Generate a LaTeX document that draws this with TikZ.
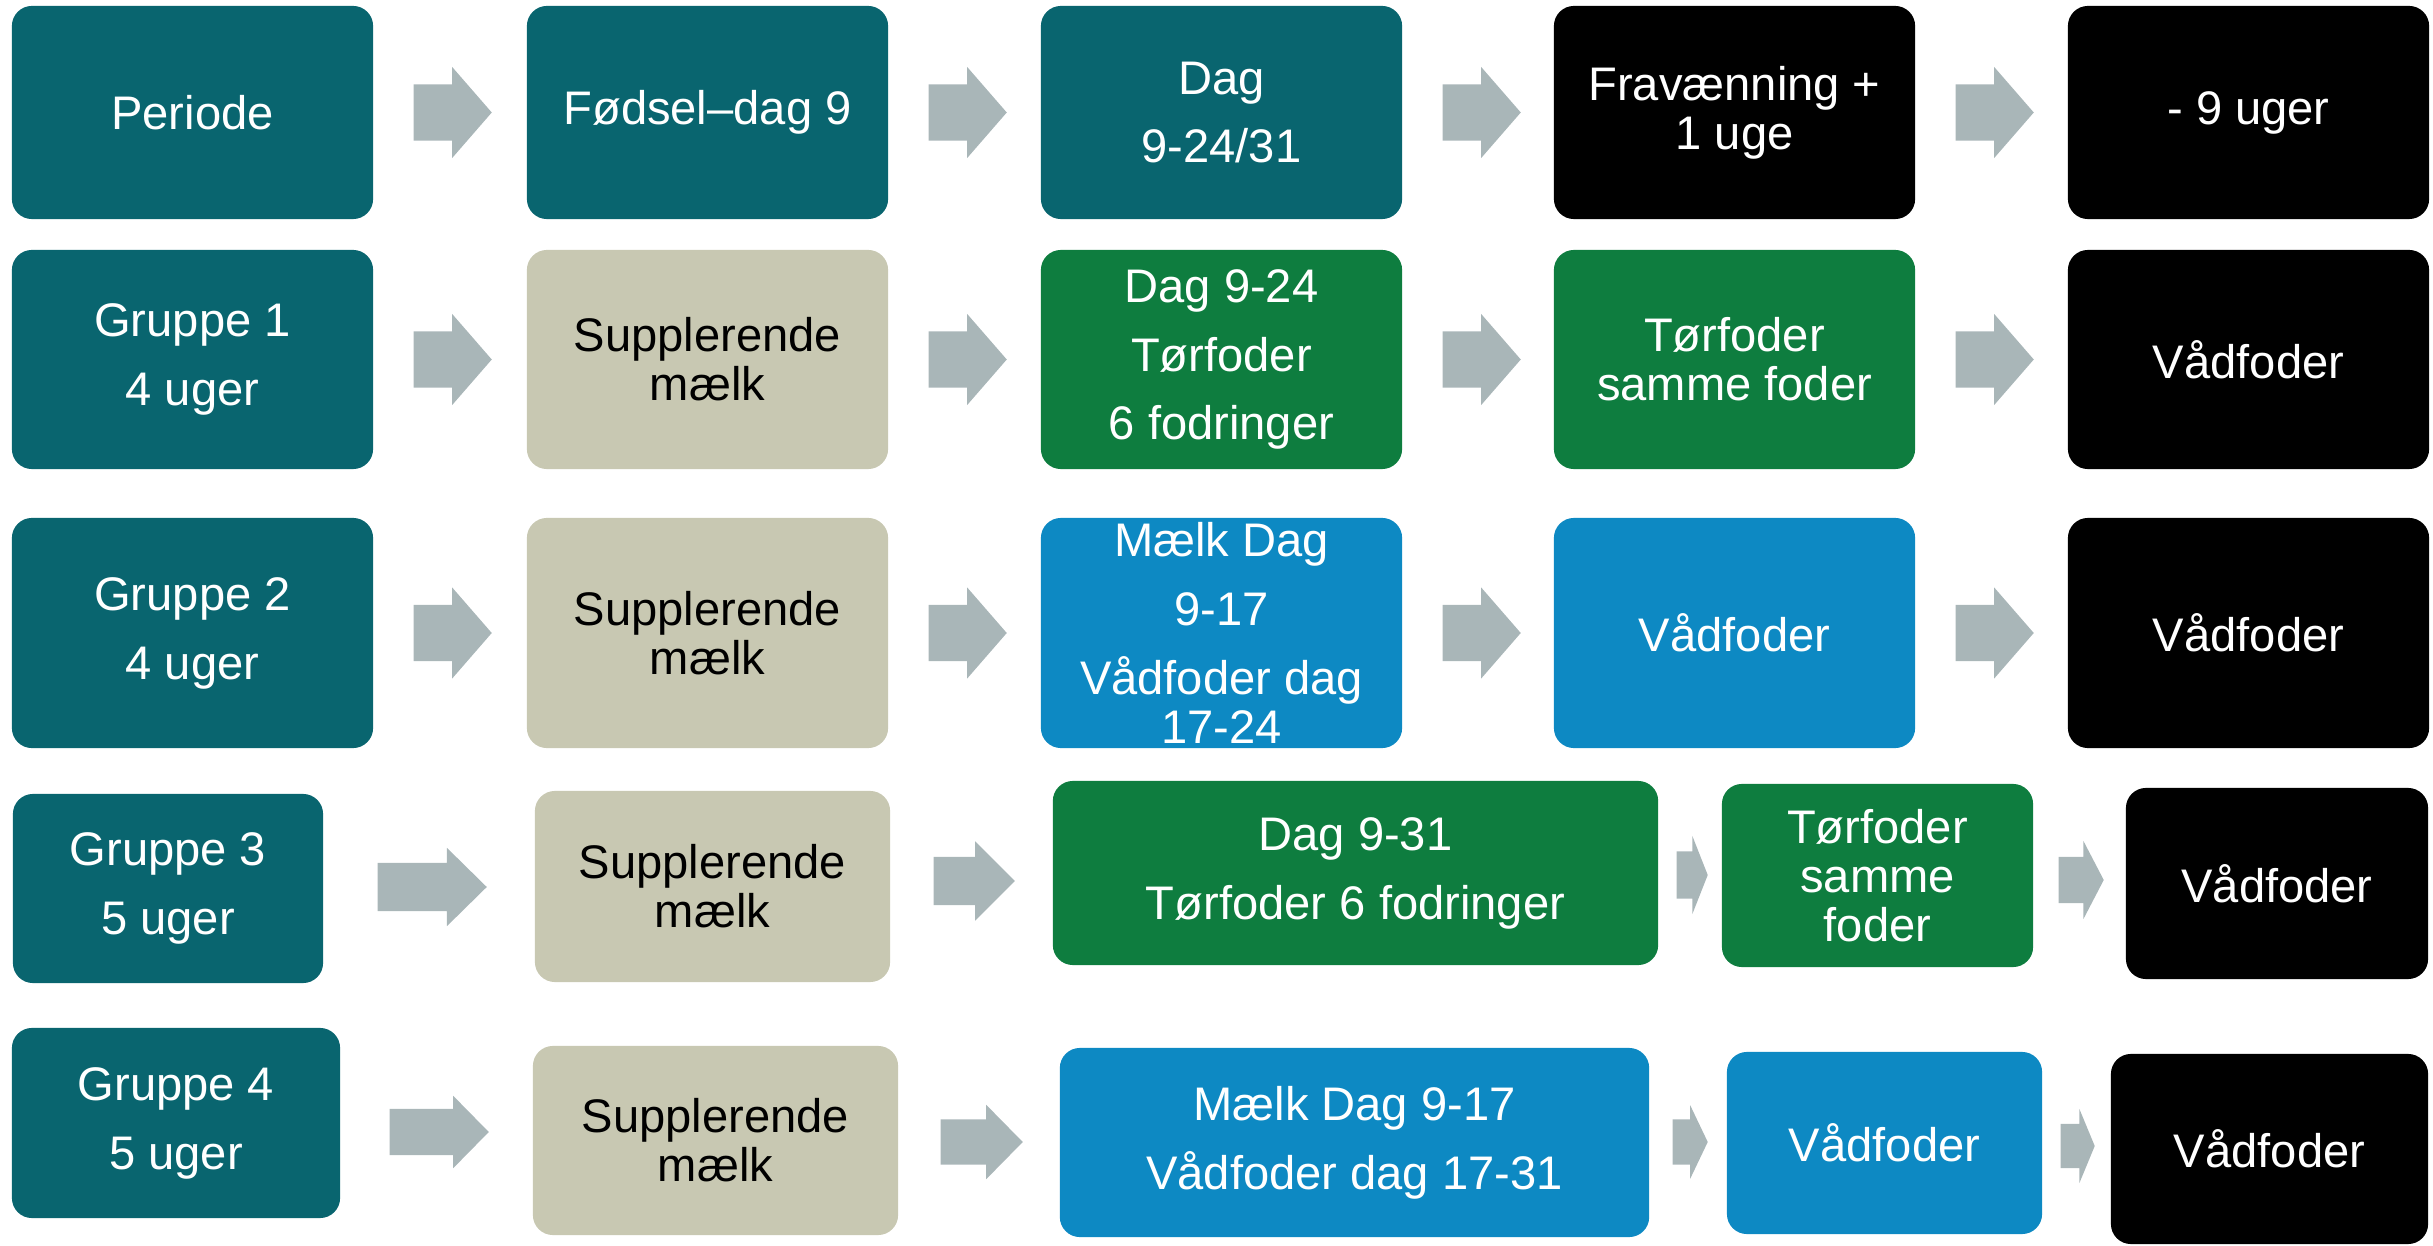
\documentclass[tikz,border=0pt]{standalone}
\usepackage{fontspec}
\setmainfont{Liberation Sans}
\usetikzlibrary{shapes.arrows}

\definecolor{petrol}{HTML}{09656F}
\definecolor{groen}{HTML}{0E7D3F}
\definecolor{blaa}{HTML}{0D89C3}
\definecolor{beige}{HTML}{C8C8B2}
\definecolor{pilgraa}{HTML}{A9B6B8}

\newcommand{\tekst}{\fontsize{13.4pt}{13.9pt}\selectfont}

\tikzset{
  boks/.style={rounded corners=0.2cm, inner sep=0pt, align=center, text=white, font=\tekst},
  str/.style 2 args={minimum width=#1cm, minimum height=#2cm},
  periode/.style={boks, fill=petrol},
  suppl/.style={boks, fill=beige, text=black},
  toer/.style={boks, fill=groen},
  vaad/.style={boks, fill=blaa},
  slut/.style={boks, fill=black},
  % pil: laengde, halv skaftbredde, hoved-udhaeng, spidsvinkel
  pil/.style n args={4}{single arrow, fill=pilgraa, anchor=tail,
    inner xsep=0pt, inner ysep=#2cm, minimum height=#1cm,
    single arrow head extend=#3cm, single arrow tip angle=#4},
}

\begin{document}
\begin{tikzpicture}[x=0.01cm, y=-0.01cm]
  \useasboundingbox (0,0) rectangle (2433,1246);

  % raekke 1: perioder
  \node[periode, str={3.61}{2.13}] (p1) at (192.5,112.5) {Periode};
  \node[periode, str={3.61}{2.13}] (p2) at (707.5,112.5) {Fødsel–dag 9};
  \node[periode, str={3.61}{2.13}] (p3) at (1221.5,112.5) {Dag\\[5.7pt]9-24/31};
  \node[slut, str={3.61}{2.13}] (p4) at (1734.5,112.5) {Fravænning +\\1 uge};
  \node[slut, str={3.61}{2.13}] (p5) at (2248.5,112.5) {- 9 uger};

  % raekke 2: gruppe 1
  \node[periode, str={3.61}{2.19}] (g11) at (192.5,359.5) {Gruppe 1\\[5.7pt]4 uger};
  \node[suppl, str={3.61}{2.19}] (g12) at (707.5,359.5) {Supplerende\\mælk};
  \node[toer, str={3.61}{2.19}] (g13) at (1221.5,359.5) {Dag 9-24\\[5.7pt]Tørfoder\\[5.7pt]6 fodringer};
  \node[toer, str={3.61}{2.19}] (g14) at (1734.5,359.5) {Tørfoder\\samme foder};
  \node[slut, str={3.61}{2.19}] (g15) at (2248.5,359.5) {Vådfoder};

  % raekke 3: gruppe 2
  \node[periode, str={3.61}{2.30}] (g21) at (192.5,633) {Gruppe 2\\[5.7pt]4 uger};
  \node[suppl, str={3.61}{2.30}] (g22) at (707.5,633) {Supplerende\\mælk};
  \node[vaad, str={3.61}{2.30}] (g23) at (1221.5,633) {Mælk Dag\\[5.7pt]9-17\\[5.7pt]Vådfoder dag\\17-24};
  \node[vaad, str={3.61}{2.30}] (g24) at (1734.5,633) {Vådfoder};
  \node[slut, str={3.61}{2.30}] (g25) at (2248.5,633) {Vådfoder};

  % raekke 4: gruppe 3
  \node[periode, str={3.10}{1.89}] (g31) at (168,888.5) {Gruppe 3\\[5.7pt]5 uger};
  \node[suppl, str={3.55}{1.91}] (g32) at (712.5,886.5) {Supplerende\\mælk};
  \node[toer, str={6.05}{1.84}] (g33) at (1355.5,873) {Dag 9-31\\[5.7pt]Tørfoder 6 fodringer};
  \node[toer, str={3.11}{1.83}] (g34) at (1877.5,875.5) {Tørfoder\\samme\\foder};
  \node[slut, str={3.02}{1.91}] (g35) at (2277,883.5) {Vådfoder};

  % raekke 5: gruppe 4
  \node[periode, str={3.28}{1.90}] (g41) at (176,1123) {Gruppe 4\\[5.7pt]5 uger};
  \node[suppl, str={3.65}{1.89}] (g42) at (715.5,1140.5) {Supplerende\\mælk};
  \node[vaad, str={5.89}{1.89}] (g43) at (1354.5,1142.5) {Mælk Dag 9-17\\[5.7pt]Vådfoder dag 17-31};
  \node[vaad, str={3.15}{1.82}] (g44) at (1884.5,1143) {Vådfoder};
  \node[slut, str={3.17}{1.90}] (g45) at (2269.5,1149) {Vådfoder};

  % pile
  \foreach \y/\r in {112.5/1, 359.5/2, 633/3}{
    \node[pil={0.78}{0.275}{0.175}{98}] (a\r1) at (413,\y) {};
    \node[pil={0.78}{0.275}{0.175}{98}] (a\r2) at (928,\y) {};
    \node[pil={0.78}{0.275}{0.175}{98}] (a\r3) at (1442,\y) {};
    \node[pil={0.78}{0.275}{0.175}{98}] (a\r4) at (1955,\y) {};
  }
  \node[pil={1.09}{0.235}{0.15}{89}] (a41) at (377,887) {};
  \node[pil={0.81}{0.235}{0.155}{90}] (a42) at (933,881) {};
  \node[pil={0.31}{0.23}{0.155}{137}] (a43) at (1676,875) {};
  \node[pil={0.45}{0.225}{0.16}{125}] (a44) at (2058,880) {};
  \node[pil={0.99}{0.225}{0.13}{91}] (a51) at (389,1132) {};
  \node[pil={0.82}{0.22}{0.145}{91}] (a52) at (940,1142) {};
  \node[pil={0.35}{0.22}{0.14}{129}] (a53) at (1672,1142) {};
  \node[pil={0.34}{0.215}{0.15}{135}] (a54) at (2060,1146) {};
\end{tikzpicture}
\end{document}
